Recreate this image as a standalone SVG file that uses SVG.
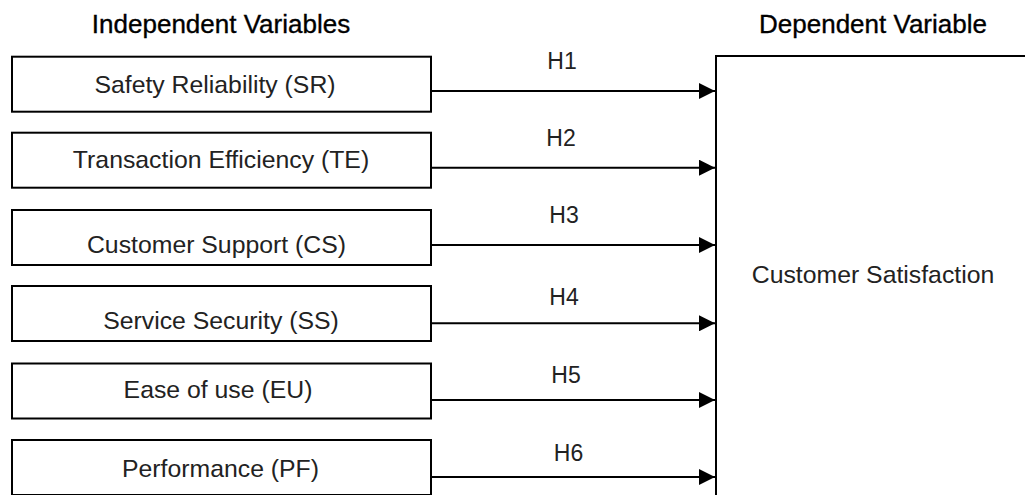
<svg xmlns="http://www.w3.org/2000/svg" width="1025" height="495" viewBox="0 0 1025 495">
<style>
.box{fill:#fff;stroke:#000;stroke-width:2}
.lbl{font-family:"Liberation Sans",Arial,sans-serif;font-size:24.8px;fill:#222;text-anchor:middle}
.hdr{font-family:"Liberation Sans",Arial,sans-serif;font-size:26px;fill:#000;stroke:#000;stroke-width:0.35;text-anchor:middle}
.h{font-family:"Liberation Sans",Arial,sans-serif;font-size:23px;fill:#222;text-anchor:middle}
.conn{stroke:#000;stroke-width:2;fill:none;marker-end:url(#arr)}
</style>
<defs>
<marker id="arr" markerUnits="userSpaceOnUse" markerWidth="17" markerHeight="16" refX="16" refY="8" orient="auto">
<path d="M0,0 L16,8 L0,16 Z" fill="#000"/>
</marker>
</defs>
<rect width="1025" height="495" fill="#fff"/>
<text class="hdr" x="221" y="33">Independent Variables</text>
<text class="hdr" x="873" y="33">Dependent Variable</text>
<g id="node-sr"><rect class="box" x="12" y="56.7" width="419" height="55"/><text class="lbl" x="215" y="93.3">Safety Reliability (SR)</text></g>
<g id="node-te"><rect class="box" x="12" y="132.7" width="419" height="55"/><text class="lbl" x="221" y="168">Transaction Efficiency (TE)</text></g>
<g id="node-cs"><rect class="box" x="12" y="210" width="419" height="55"/><text class="lbl" x="216.5" y="253.3">Customer Support (CS)</text></g>
<g id="node-ss"><rect class="box" x="12" y="286" width="419" height="55"/><text class="lbl" x="221" y="329.3">Service Security (SS)</text></g>
<g id="node-eu"><rect class="box" x="12" y="363.5" width="419" height="55"/><text class="lbl" x="218" y="397.7">Ease of use (EU)</text></g>
<g id="node-pf"><rect class="box" x="12" y="440" width="419" height="55"/><text class="lbl" x="220.5" y="476.7">Performance (PF)</text></g>
<g id="node-csat"><rect class="box" x="716" y="56" width="330" height="460"/><text class="lbl" x="873" y="283.3">Customer Satisfaction</text></g>
<g id="connectors">
<line class="conn" x1="431" y1="91" x2="715" y2="91"/>
<line class="conn" x1="431" y1="167.7" x2="715" y2="167.7"/>
<line class="conn" x1="431" y1="245" x2="715" y2="245"/>
<line class="conn" x1="431" y1="323.3" x2="715" y2="323.3"/>
<line class="conn" x1="431" y1="400" x2="715" y2="400"/>
<line class="conn" x1="431" y1="477" x2="715" y2="477"/>
<text class="h" x="562" y="69.3">H1</text>
<text class="h" x="561" y="146">H2</text>
<text class="h" x="564" y="223.3">H3</text>
<text class="h" x="564" y="305">H4</text>
<text class="h" x="566" y="383">H5</text>
<text class="h" x="568.5" y="461">H6</text>
</g>
</svg>
